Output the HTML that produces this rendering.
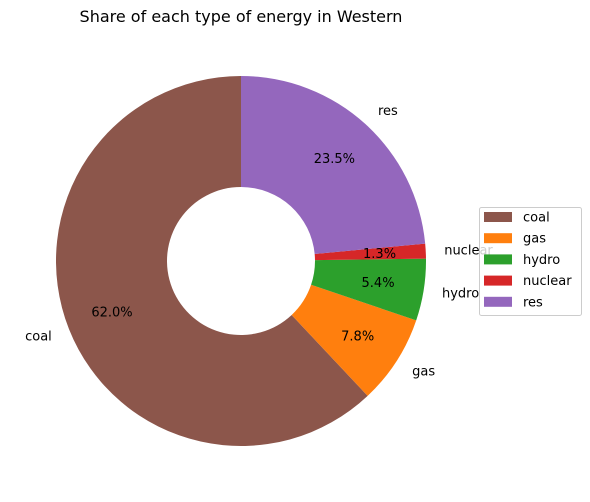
<!DOCTYPE html>
<html>
<head>
<meta charset="utf-8">
<style>
  html,body{margin:0;padding:0;background:#fff;}
  svg{display:block;font-family:"DejaVu Sans","Liberation Sans",sans-serif;}
</style>
</head>
<body>
<svg id="chart" width="590" height="502" viewBox="0 0 590 502">
  <text x="241" y="22" text-anchor="middle" font-size="16" fill="#000">Share of each type of energy in Western</text>
  <g id="slices"></g>
  <g id="labels"></g>
  <g id="legend"></g>
</svg>
<script>
const categories = ["coal", "gas", "hydro", "nuclear", "res"];
const shares = [62.0, 7.8, 5.4, 1.3, 23.5];
const colors = ["#8c564b", "#ff7f0e", "#2ca02c", "#d62728", "#9467bd"];

const NS = "http://www.w3.org/2000/svg";
const cx = 241, cy = 261, R = 185, r0 = 74;
const total = shares.reduce((a, b) => a + b, 0);
function pt(rad, deg) {
  const t = deg * Math.PI / 180;
  return [cx + rad * Math.cos(t), cy - rad * Math.sin(t)];
}
const slicesG = document.getElementById("slices");
const labelsG = document.getElementById("labels");
let start = 90;
shares.forEach((v, i) => {
  const sweep = v / total * 360;
  const end = start + sweep;
  const large = sweep > 180 ? 1 : 0;
  const [x1, y1] = pt(R, start), [x2, y2] = pt(R, end);
  const [x3, y3] = pt(r0, end), [x4, y4] = pt(r0, start);
  const p = document.createElementNS(NS, "path");
  p.setAttribute("d", `M${x1},${y1} A${R},${R} 0 ${large} 0 ${x2},${y2} L${x3},${y3} A${r0},${r0} 0 ${large} 1 ${x4},${y4} Z`);
  p.setAttribute("fill", colors[i]);
  
  
  slicesG.appendChild(p);

  const mid = start + sweep / 2;
  const [lx, ly] = pt(R * 1.1, mid);
  const lab = document.createElementNS(NS, "text");
  lab.setAttribute("x", lx);
  lab.setAttribute("y", ly + 4.5);
  lab.setAttribute("font-size", "13");
  lab.setAttribute("text-anchor", lx < cx ? "end" : "start");
  lab.textContent = categories[i];
  
  
  labelsG.appendChild(lab);

  const [px, py] = pt(R * 0.75, mid);
  const pc = document.createElementNS(NS, "text");
  pc.setAttribute("x", px);
  pc.setAttribute("y", py + 4.5);
  pc.setAttribute("font-size", "13");
  pc.setAttribute("text-anchor", "middle");
  pc.textContent = v.toFixed(1) + "%";
  
  
  labelsG.appendChild(pc);
  start = end;
});

const lg = document.getElementById("legend");
const box = document.createElementNS(NS, "rect");
box.setAttribute("x", 479.5); box.setAttribute("y", 207.5);
box.setAttribute("width", 102); box.setAttribute("height", 108);
box.setAttribute("rx", 2);
box.setAttribute("fill", "#fff"); box.setAttribute("fill-opacity", "0.8");
box.setAttribute("stroke", "#ccc");


lg.appendChild(box);
categories.forEach((c, i) => {
  const y = 217 + i * 21.2;
  const sw = document.createElementNS(NS, "rect");
  sw.setAttribute("x", 484); sw.setAttribute("y", y - 5);
  sw.setAttribute("width", 28); sw.setAttribute("height", 10);
  sw.setAttribute("fill", colors[i]);
  
  
  lg.appendChild(sw);
  const t = document.createElementNS(NS, "text");
  t.setAttribute("x", 523); t.setAttribute("y", y + 4.5);
  t.setAttribute("font-size", "13");
  t.textContent = c;
  
  
  lg.appendChild(t);
});
</script>
</body>
</html>
